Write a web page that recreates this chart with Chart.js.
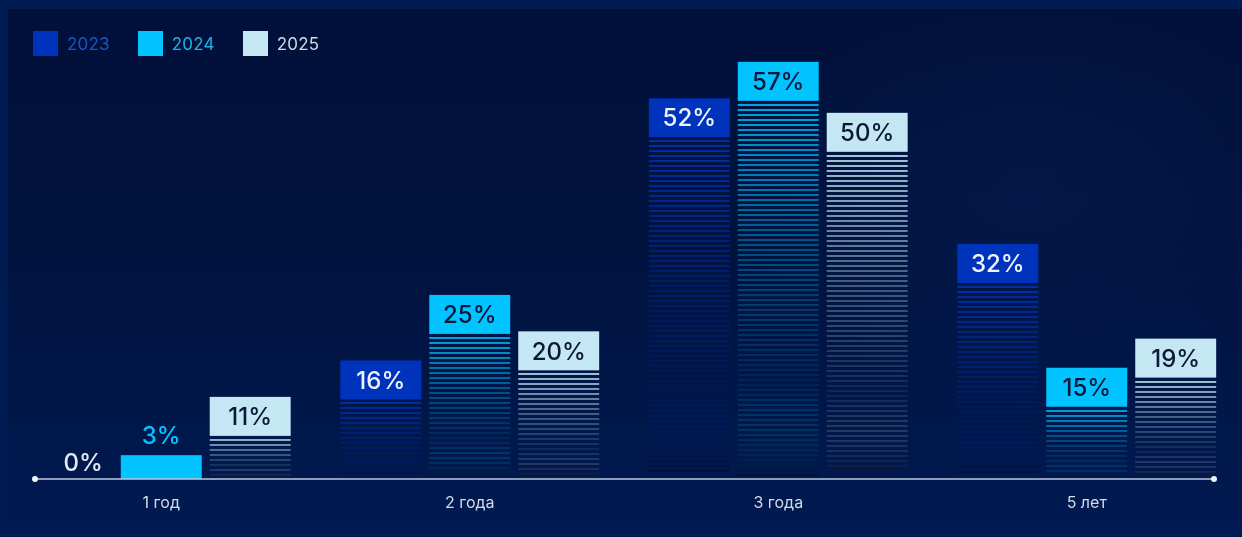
<!DOCTYPE html>
<html lang="ru">
<head>
<meta charset="utf-8">
<title>Срок</title>
<script src="https://cdn.jsdelivr.net/npm/chart.js@4.4.1/dist/chart.umd.min.js"></script>
<style>
  html, body { margin: 0; padding: 0; }
  body {
    width: 1242px; height: 537px; overflow: hidden;
    background: #001a52; position: relative;
    font-family: Inter, "Noto Sans", sans-serif;
  }
  #panel {
    position: absolute; left: 8px; top: 9px; right: 0; bottom: 0;
    background:
      radial-gradient(ellipse 420px 300px at 1020px 180px, rgba(20,50,120,0.18), rgba(0,0,0,0) 70%),
      linear-gradient(180deg, #00103a 0%, #00133f 45%, #001a52 100%);
  }
  #wrap { position: absolute; left: 0; top: 0; width: 1242px; height: 537px; }
  #legend {
    position: absolute; left: 33px; top: 31px; display: flex; align-items: center;
    font-size: 17px; font-weight: 400; letter-spacing: 0.2px;
  }
  .item { display: flex; align-items: center; margin-right: 28px; }
  .sw { width: 25px; height: 25px; margin-right: 9px; }
</style>
</head>
<body>
<div id="panel"></div>
<div id="wrap"><canvas id="c" width="1242" height="537"></canvas></div>
<div id="legend"></div>
<script>
// Share of answers by horizon, per survey year (percent)
const categories = ['1 год', '2 года', '3 года', '5 лет'];
const years = ['2023', '2024', '2025'];
const values2023 = [0, 16, 52, 32];
const values2024 = [3, 25, 57, 15];
const values2025 = [11, 20, 50, 19];

// Visual style per year
const fills = ['#0033bb', '#00c3ff', '#c5e6f3'];
const rgb = [[0, 51, 187], [0, 195, 255], [197, 230, 243]];
const insideText = ['#eef3fa', '#0c1838', '#0c1838'];
const outsideText = ['#e3eaf3', '#00c3ff', '#c5e6f3'];
const legendText = ['#1557c8', '#18b4ea', '#c9dbe8'];

const legend = document.getElementById('legend');
years.forEach((y, i) => {
  const it = document.createElement('div');
  it.className = 'item';
  const sw = document.createElement('div');
  sw.className = 'sw';
  sw.style.background = fills[i];
  const tx = document.createElement('span');
  tx.textContent = y;
  tx.style.color = legendText[i];
  it.appendChild(sw); it.appendChild(tx);
  legend.appendChild(it);
});

const BOX_H = 39;
const LABEL_FONT = '500 24px Inter, "Noto Sans", sans-serif';

// Draws each bar as a solid value box on top plus a fading striped body
const stripedBars = {
  id: 'stripedBars',
  afterDatasetsDraw(chart) {
    const ctx = chart.ctx;
    chart.data.datasets.forEach((ds, di) => {
      const meta = chart.getDatasetMeta(di);
      const [r, g, b] = rgb[di];
      meta.data.forEach((bar, i) => {
        const v = ds.data[i];
        const p = bar.getProps(['x', 'y', 'base', 'width'], true);
        const left = p.x - p.width / 2;
        const w = p.width;
        const h = p.base - p.y;
        ctx.save();
        ctx.font = LABEL_FONT;
        ctx.textBaseline = 'middle';
        if (h >= BOX_H) {
          ctx.fillStyle = fills[di];
          ctx.fillRect(left, p.y, w, BOX_H);
          const top = p.y + BOX_H;
          const grad = ctx.createLinearGradient(0, top, 0, p.base);
          grad.addColorStop(0, `rgba(${r},${g},${b},0.85)`);
          grad.addColorStop(0.4, `rgba(${r},${g},${b},0.34)`);
          grad.addColorStop(0.75, `rgba(${r},${g},${b},0.08)`);
          grad.addColorStop(1, 'rgba(0,8,30,0.6)');
          ctx.fillStyle = grad;
          for (let sy = Math.round(top) + 3; sy + 2 <= p.base - 1; sy += 5) {
            ctx.fillRect(left, sy, w, 2);
          }
          ctx.fillStyle = insideText[di];
          ctx.textAlign = 'center';
          ctx.fillText(v + '%', p.x, p.y + BOX_H / 2 + 1.5);
        } else if (v > 0) {
          ctx.fillStyle = fills[di];
          ctx.fillRect(left, p.y, w, p.base + 2 - p.y);
          ctx.fillStyle = outsideText[di];
          ctx.textAlign = 'center';
          ctx.fillText(v + '%', p.x, p.y - 18);
        } else {
          ctx.fillStyle = outsideText[di];
          ctx.textAlign = 'right';
          ctx.fillText(v + '%', left + w - 10, p.base - 13);
        }
        ctx.restore();
      });
    });
  }
};

// Baseline with round end caps
const baseline = {
  id: 'baseline',
  afterDraw(chart) {
    const ctx = chart.ctx;
    const a = chart.chartArea;
    const y = a.bottom + 2;
    const x0 = a.left + 28, x1 = a.right - 27;
    ctx.save();
    ctx.strokeStyle = '#bccadd';
    ctx.lineWidth = 1.5;
    ctx.beginPath();
    ctx.moveTo(x0, y);
    ctx.lineTo(x1, y);
    ctx.stroke();
    ctx.fillStyle = '#eef2f8';
    [x0, x1].forEach(x => {
      ctx.beginPath();
      ctx.arc(x, y, 3, 0, Math.PI * 2);
      ctx.fill();
    });
    ctx.restore();
  }
};

new Chart(document.getElementById('c'), {
  type: 'bar',
  data: {
    labels: categories,
    datasets: [values2023, values2024, values2025].map((d, i) => ({
      label: years[i],
      data: d,
      backgroundColor: 'rgba(0,0,0,0)',
      borderWidth: 0,
      categoryPercentage: 0.865,
      barPercentage: 0.91
    }))
  },
  options: {
    responsive: false,
    animation: false,
    devicePixelRatio: 1,
    layout: { padding: { left: 7, right: 1, top: 40, bottom: 0 } },
    plugins: { legend: { display: false }, tooltip: { enabled: false } },
    scales: {
      x: {
        grid: { display: false },
        border: { display: false },
        afterFit(scale) { scale.height = 60; },
        ticks: {
          color: '#d3dbe7',
          padding: 9,
          font: { family: 'Inter, "Noto Sans", sans-serif', size: 16, weight: 400 }
        }
      },
      y: { display: false, min: 0, max: 60 }
    }
  },
  plugins: [stripedBars, baseline]
});
</script>
</body>
</html>
